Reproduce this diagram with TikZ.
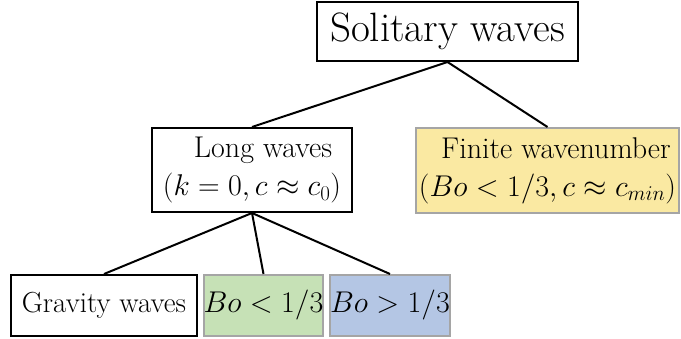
\RequirePackage{fix-cm}
\documentclass[tikz,border=0pt]{standalone}
\definecolor{yel}{RGB}{250,233,162}
\definecolor{grn}{RGB}{198,225,182}
\definecolor{blu}{RGB}{180,198,228}
\definecolor{edgegray}{RGB}{165,165,165}
\begin{document}
\begin{tikzpicture}[x=1pt,y=-1pt,
  box/.style={draw=black, line width=2pt, inner sep=0pt, align=center,
    font=\fontsize{30}{38}\selectfont},
  cbox/.style={box, draw=edgegray},
  conn/.style={line width=2pt}]
\useasboundingbox (0,0) rectangle (681,339);
\node[box, minimum width=261pt, minimum height=59pt, font=\fontsize{41}{46}\selectfont] (sol) at (447.5,31.5) {Solitary waves};
\node[box, minimum width=200pt, minimum height=84pt] (lw) at (252,170) {\hspace{22pt}Long waves\\$(k=0, c\approx c_0)$};
\node[cbox, fill=yel, minimum width=263pt, minimum height=85pt] (fin) at (547.5,170.5) {\hspace{17pt}Finite wavenumber\\$(Bo<1/3, c\approx c_{min})$};
\node[box, minimum width=186pt, minimum height=61pt, font=\fontsize{29}{34}\selectfont] (grav) at (104,305.5) {Gravity waves};
\node[cbox, fill=grn, minimum width=119pt, minimum height=61pt] (bl) at (263.5,305.5) {$Bo<1/3$};
\node[cbox, fill=blu, minimum width=116pt, minimum height=61pt] (bg) at (390,305.5) {$Bo>1/3$};
\draw[conn] (sol.south) -- (lw.north);
\draw[conn] (sol.south) -- (fin.north);
\draw[conn] (lw.south) -- (grav.north);
\draw[conn] (lw.south) -- (bl.north);
\draw[conn] (lw.south) -- (bg.north);
\end{tikzpicture}
\end{document}
